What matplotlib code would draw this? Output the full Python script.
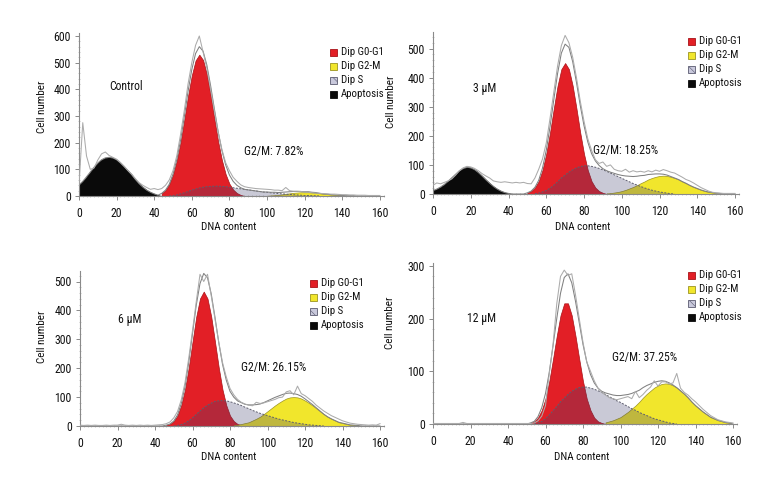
import numpy as np
import matplotlib
matplotlib.use('Agg')
import matplotlib.pyplot as plt
from matplotlib.patches import Rectangle
from matplotlib.ticker import MultipleLocator
import matplotlib.font_manager as fm

# ---- pick a narrow font if one is installed ----
entries = fm.fontManager.ttflist
names = {f.name for f in entries}
chosen = None
for cand in ['Liberation Sans Narrow', 'Roboto Condensed', 'Noto Sans Condensed',
             'Open Sans Condensed', 'DejaVu Sans Condensed', 'Noto Sans SemiCondensed']:
    if cand in names:
        chosen = (cand, 'normal')
        break
if chosen is None:
    for f in entries:
        if f.name in ('Noto Sans', 'DejaVu Sans', 'Open Sans', 'Roboto') and \
                str(f.stretch) in ('condensed', 'semi-condensed', 'extra-condensed', '75', '87.5'):
            chosen = (f.name, f.stretch)
            break
if chosen is None:
    chosen = ('Liberation Sans', 'normal')
plt.rcParams['font.family'] = [chosen[0], 'DejaVu Sans']
plt.rcParams['font.stretch'] = chosen[1]
plt.rcParams['hatch.linewidth'] = 0.4

# ---------------- data ----------------
panel_names = ['Control', '3 µM', '6 µM', '12 µM']
g2m_texts = ['G2/M: 7.82%', 'G2/M: 18.25%', 'G2/M: 26.15%', 'G2/M: 37.25%']
legend_labels = ['Dip G0-G1', 'Dip G2-M', 'Dip S', 'Apoptosis']
x_ticks = [0, 20, 40, 60, 80, 100, 120, 140, 160]
BIN = 2  # DNA-content channel width

# raw histograms, DNA content 0..160 in channels of 2
raw_control = [40, 275, 150, 100, 105, 135, 158, 165, 152, 145,
               138, 126, 112, 96, 82, 65, 50, 40, 32, 25,
               28, 24, 28, 40, 60, 95, 150, 230, 320, 420,
               500, 565, 600, 540, 480, 400, 320, 240, 175, 125,
               95, 70, 55, 42, 35, 32, 30, 28, 27, 26,
               25, 24, 22, 22, 20, 32, 20, 18, 18, 17,
               15, 14, 12, 11, 10, 9, 8, 7, 7, 6,
               5, 5, 4, 4, 3, 3, 3, 2, 2, 2, 2]
raw_3um = [30, 38, 35, 40, 45, 52, 65, 80, 90, 95,
           93, 88, 80, 70, 62, 55, 45, 42, 40, 42,
           40, 38, 40, 38, 40, 36, 35, 55, 85, 120,
           175, 260, 350, 440, 510, 545, 520, 470, 400, 320,
           250, 190, 150, 118, 105, 110, 95, 100, 85, 80,
           78, 85, 75, 80, 76, 78, 75, 80, 76, 82,
           78, 84, 80, 75, 72, 65, 58, 50, 45, 38,
           30, 22, 16, 10, 6, 4, 3, 2, 2, 2, 2]
raw_6um = [3, 2, 3, 2, 3, 2, 2, 3, 2, 3,
           3, 6, 3, 2, 3, 2, 3, 2, 3, 2,
           3, 4, 5, 8, 14, 28, 50, 90, 150, 235,
           330, 430, 525, 500, 525, 450, 370, 290, 220, 170,
           130, 108, 92, 82, 76, 72, 70, 82, 78, 80,
           84, 88, 92, 98, 100, 118, 122, 108, 138, 112,
           105, 95, 85, 72, 62, 52, 44, 36, 30, 24,
           18, 14, 10, 8, 6, 5, 4, 3, 4, 3, 8]
raw_12um = [1, 1, 1, 1, 1, 1, 1, 1, 3, 1,
            1, 1, 1, 1, 1, 1, 1, 1, 1, 1,
            1, 1, 1, 1, 1, 1, 1, 2, 6, 15,
            35, 95, 150, 228, 280, 292, 282, 285, 245, 200,
            155, 118, 100, 82, 68, 60, 55, 50, 48, 46,
            48, 50, 52, 48, 62, 50, 56, 64, 70, 82,
            72, 80, 80, 76, 78, 96, 68, 60, 55, 48,
            42, 35, 28, 22, 16, 12, 8, 6, 4, 3, 2]

# fitted components: first DNA-content value, then values every 2 channels
apo_start = [0, 0, 0, 0]
apo_control = [41, 55, 72, 90, 108, 124, 136, 143, 145, 143, 136, 124, 110, 95, 80, 62, 46, 33, 22, 14, 8, 3, 0]
apo_3um = [12, 17, 24, 33, 44, 56, 68, 80, 88, 92, 90, 84, 74, 62, 49, 37, 26, 17, 10, 5, 2, 0]
apo_6um = []
apo_12um = []

g1_start = [44, 50, 46, 52]
g1_control = [10, 22, 44, 80, 132, 200, 285, 375, 452, 508, 530, 510, 456, 378, 290, 205, 135, 82, 46, 24, 11, 4, 0]
g1_3um = [4, 10, 22, 44, 82, 138, 211, 294, 372, 429, 450, 429, 372, 294, 211, 138, 82, 44, 22, 10, 4, 0]
g1_6um = [3, 7, 17, 36, 72, 126, 202, 291, 378, 441, 465, 441, 378, 291, 202, 126, 72, 36, 17, 7, 3, 0]
g1_12um = [2, 5, 12, 26, 48, 81, 123, 167, 206, 229, 229, 206, 167, 123, 81, 48, 26, 12, 5, 2, 0]

s_start = [48, 54, 50, 54]
s_control = [0, 2, 4, 8, 12, 17, 22, 26, 30, 33, 35, 36, 37, 37, 36, 35, 33, 31, 29, 27,
             25, 23, 21, 19, 17, 15, 14, 12, 11, 9, 8, 7, 6, 5, 4, 3, 2, 2, 1, 1, 0]
s_3um = [1, 3, 7, 12, 20, 30, 42, 55, 65, 75, 83, 90, 94, 97, 97, 95, 92, 88, 83, 78,
         72, 66, 60, 54, 48, 42, 36, 31, 26, 21, 17, 13, 10, 7, 5, 3, 1, 0]
s_6um = [0, 2, 5, 10, 18, 28, 40, 52, 63, 72, 79, 85, 87, 88, 87, 84, 80, 76, 71, 65,
         60, 54, 49, 44, 40, 36, 32, 28, 24, 21, 18, 15, 12, 10, 8, 6, 4, 3, 2, 1, 0]
s_12um = [0, 2, 5, 10, 17, 25, 33, 42, 49, 56, 62, 66, 69, 70, 70, 68, 66, 63, 60, 56,
          52, 48, 44, 41, 37, 33, 29, 26, 22, 19, 16, 13, 10, 8, 6, 4, 2, 1, 0]

g2_start = [100, 92, 82, 92]
g2_control = [1, 2, 3, 4, 6, 8, 10, 12, 13, 14, 14, 14, 13, 12, 10, 8, 7, 5, 4, 3, 2, 1, 1, 1, 0]
g2_3um = [2, 3, 5, 7, 10, 14, 19, 24, 30, 37, 43, 50, 55, 59, 62, 63, 62, 59, 55, 50,
          43, 37, 30, 24, 19, 14, 10, 7, 5, 3, 2, 0]
g2_6um = [3, 4, 7, 10, 13, 19, 25, 32, 41, 51, 61, 71, 80, 88, 95, 99, 100, 99, 95, 88,
          80, 71, 61, 51, 41, 32, 25, 19, 13, 10, 7, 4, 3, 2, 0]
g2_12um = [3, 5, 7, 10, 13, 18, 23, 29, 35, 42, 50, 57, 63, 69, 73, 76, 77, 76, 73, 69,
           63, 57, 50, 42, 35, 29, 23, 18, 13, 10, 7, 5, 3, 2, 0]

raws = [raw_control, raw_3um, raw_6um, raw_12um]
apos = [apo_control, apo_3um, apo_6um, apo_12um]
g1s = [g1_control, g1_3um, g1_6um, g1_12um]
ss = [s_control, s_3um, s_6um, s_12um]
g2s = [g2_control, g2_3um, g2_6um, g2_12um]

# ---------------- layout / style ----------------
W, H = 780, 480
# left px, zero-line px, px per DNA unit, px per 100 cells, y top
ax_specs = [
    (79, 196, 1.88, 26.67, 610),
    (433, 194, 1.8875, 29.1, 555),
    (80, 426, 1.875, 28.9, 535),
    (433, 424, 1.875, 52.7, 305),
]
ylabel_off = [(32, 0.55), (37, 0.57), (33, 0.58), (38, 0.63)]  # px left of axis, axes-frac y
xlabel_off = [26, 28, 26, 28]  # px below axis (top of text)
name_pos = [(16, 409), (21, 364), (20, 367), (18, 201)]
g2m_pos = [(88, 165), (85, 148), (86, 204), (95.5, 127)]
legend_pos = [(330, 52), (688, 41), (310, 283), (688, 275)]

RED = '#e21f26'
RED_EDGE = '#a81218'
YEL = '#f1e62c'
YEL_EDGE = '#9c9420'
S_OVER = '#40406e'
S_ALPHA = 0.28
BLACK = '#0a0a0a'
AXC = '#8a8a8a'
TXT = '#111111'

fig = plt.figure(figsize=(W / 100, H / 100), dpi=100)
fig.patch.set_facecolor('white')


def full_grid(start, vals, n):
    arr = np.zeros(n)
    i0 = int(start // BIN)
    v = np.asarray(vals, dtype=float)
    arr[i0:i0 + len(v)] = v[: max(0, n - i0)]
    return arr


for k in range(4):
    left, y0, pxu, px100, ytop = ax_specs[k]
    xmax = 162
    wpx = xmax * pxu
    hpx = ytop * px100 / 100
    ax = fig.add_axes([left / W, (H - y0) / H, wpx / W, hpx / H])
    raw = np.asarray(raws[k], dtype=float)
    n = len(raw)
    x = np.arange(n) * BIN

    apo = full_grid(apo_start[k], apos[k], n) if len(apos[k]) else np.zeros(n)
    g1 = full_grid(g1_start[k], g1s[k], n)
    sp = full_grid(s_start[k], ss[k], n)
    g2 = full_grid(g2_start[k], g2s[k], n)
    total = apo + g1 + sp + g2

    if len(apos[k]):
        xa = apo_start[k] + np.arange(len(apos[k])) * BIN
        ax.fill_between(xa, 0, apos[k], color=BLACK, lw=0.6, zorder=2)
    xg = g1_start[k] + np.arange(len(g1s[k])) * BIN
    ax.fill_between(xg, 0, g1s[k], facecolor=RED, edgecolor=RED_EDGE, lw=0.5, zorder=2)
    xy = g2_start[k] + np.arange(len(g2s[k])) * BIN
    ax.fill_between(xy, 0, g2s[k], facecolor=YEL, edgecolor=YEL_EDGE, lw=0.5, zorder=2)
    xs = s_start[k] + np.arange(len(ss[k])) * BIN
    ax.fill_between(xs, 0, ss[k], facecolor=S_OVER, alpha=S_ALPHA, lw=0, zorder=3)
    ax.plot(xs, ss[k], color='#5e5e6e', lw=0.7, ls=(0, (2, 1.5)), zorder=4)

    ax.plot(x, total, color='#808080', lw=0.75, zorder=5)
    ax.plot(x, raw, color='#ababab', lw=0.75, zorder=5)

    ax.set_xlim(0, xmax)
    ax.set_ylim(0, ytop)
    for side in ['top', 'right']:
        ax.spines[side].set_visible(False)
    for side in ['left', 'bottom']:
        ax.spines[side].set_color(AXC)
        ax.spines[side].set_linewidth(0.8)
    ax.set_xticks(x_ticks)
    ax.xaxis.set_minor_locator(MultipleLocator(2))
    ax.yaxis.set_major_locator(MultipleLocator(100))
    ax.yaxis.set_minor_locator(MultipleLocator(20))
    ax.tick_params(axis='both', which='major', length=3, width=0.7, color=AXC,
                   labelsize=8.5, labelcolor=TXT, direction='out')
    ax.tick_params(axis='x', which='major', pad=5)
    ax.tick_params(axis='y', which='major', pad=3)
    ax.tick_params(axis='both', which='minor', length=2, width=0.5, color='#b0b0b0',
                   direction='inout')
    ax.set_xlabel('DNA content', fontsize=8, color=TXT)
    ax.set_ylabel('Cell number', fontsize=8, color=TXT)
    ax.yaxis.set_label_coords(-ylabel_off[k][0] / wpx, ylabel_off[k][1])
    ax.xaxis.set_label_coords(0.49, -xlabel_off[k] / hpx)
    ax.patch.set_alpha(0)

    ax.text(name_pos[k][0], name_pos[k][1], panel_names[k], fontsize=8.5,
            color=TXT, va='center', ha='left')
    ax.text(g2m_pos[k][0], g2m_pos[k][1], g2m_texts[k], fontsize=8.5,
            color=TXT, va='center', ha='left')

    # legend
    lx, ly = legend_pos[k]
    styles = [dict(fc=RED, ec=RED_EDGE), dict(fc=YEL, ec=YEL_EDGE),
              dict(fc='#c9c9dc', ec='#5a5a70', hatch='\\\\\\'), dict(fc=BLACK, ec=BLACK)]
    for j, lab in enumerate(legend_labels):
        cy = ly + j * 14
        r = Rectangle((lx / W, 1 - (cy + 3.5) / H), 7 / W, 7 / H,
                      transform=fig.transFigure, lw=0.6, **styles[j])
        fig.patches.append(r)
        fig.text((lx + 11) / W, 1 - cy / H, lab, fontsize=7.8, color=TXT,
                 va='center', ha='left')

fig.savefig('out.png', dpi=100)
